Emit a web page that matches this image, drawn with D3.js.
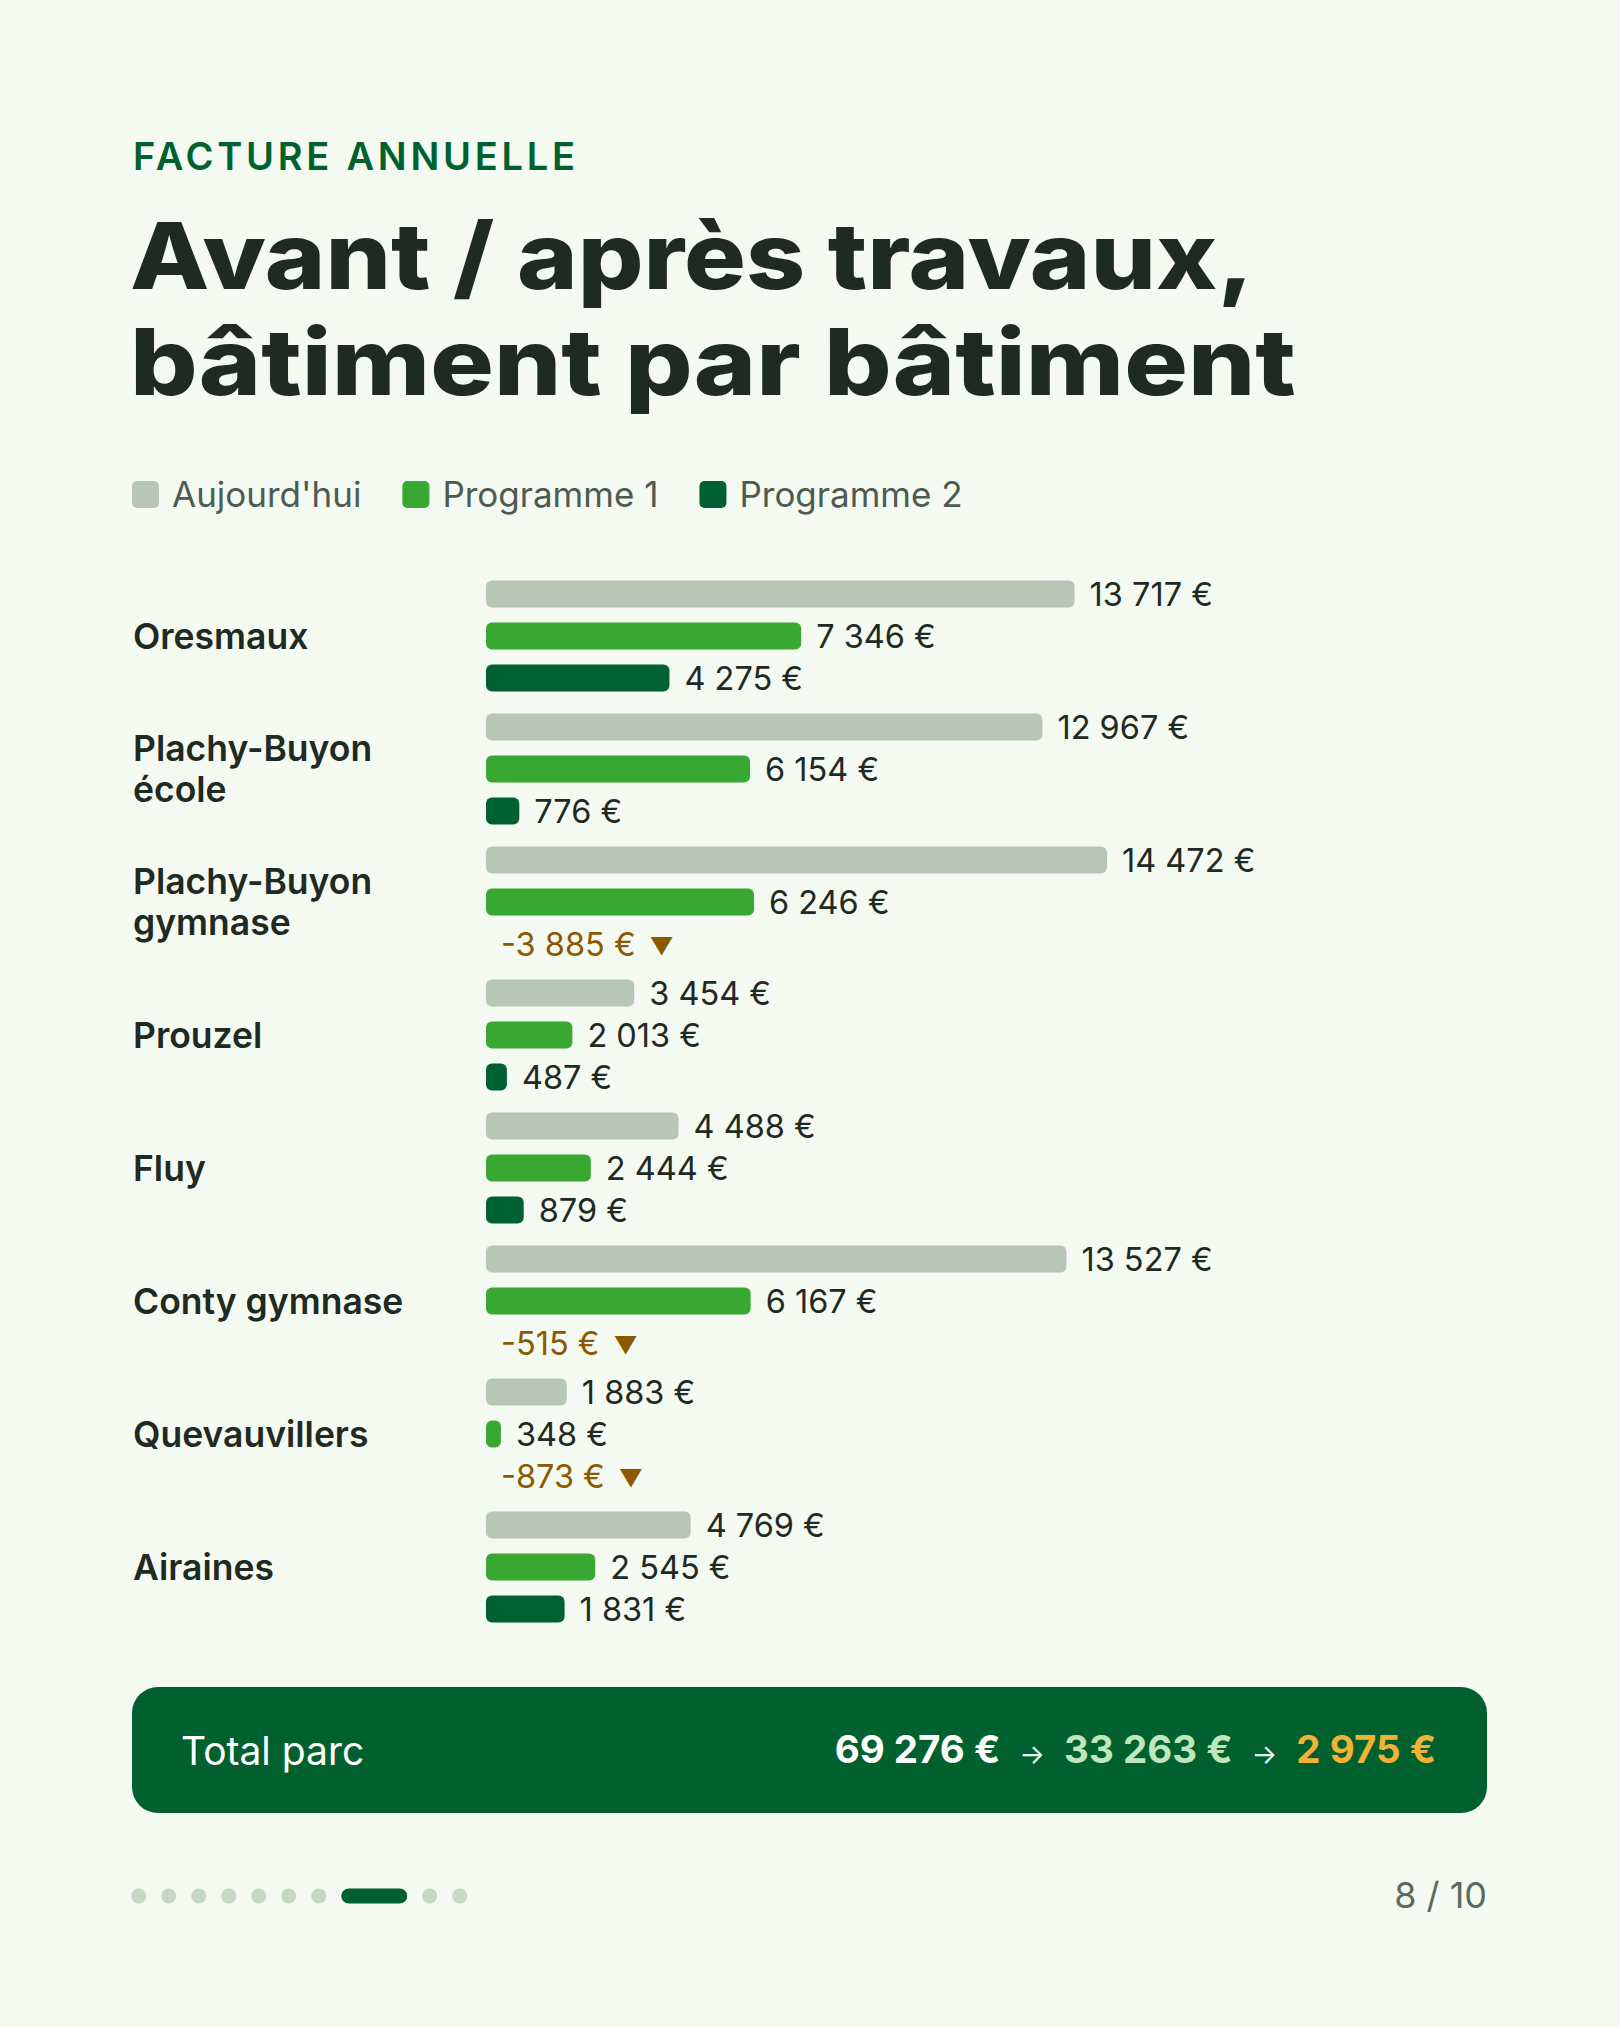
<!DOCTYPE html>
<html>
<head>
<meta charset="utf-8">
<script src="https://cdn.jsdelivr.net/npm/d3@7"></script>
<style>
  html, body { margin: 0; padding: 0; background: #f4f9f1; }
  svg { display: block; font-family: Inter, "Noto Sans", sans-serif; }
</style>
</head>
<body>
<script>
// ---------- DATA ----------
const categories = ["Oresmaux", "Plachy-Buyon école", "Plachy-Buyon gymnase", "Prouzel", "Fluy", "Conty gymnase", "Quevauvillers", "Airaines"];
const seriesNames = ["Aujourd'hui", "Programme 1", "Programme 2"];
const aujourdhui = [13717, 12967, 14472, 3454, 4488, 13527, 1883, 4769];
const programme1 = [7346, 6154, 6246, 2013, 2444, 6167, 348, 2545];
const programme2 = [4275, 776, -3885, 487, 879, -515, -873, 1831];
const totals = [69276, 33263, 2975];
const kicker = "FACTURE ANNUELLE";
const titleLines = ["Avant / après travaux,", "bâtiment par bâtiment"];
const totalLabel = "Total parc";
const pageIndex = 8, pageCount = 10;

// ---------- STYLE ----------
const W = 1620, H = 2027;
const colors = ["#b8c6b5", "#38a832", "#006130"];
const ink = "#1f2a22";
const negColor = "#8a5a00";
const bg = "#f4f9f1";

const fmt = v => d3.format(",")(Math.abs(v)).replace(/,/g, "\u00A0");
const euro = v => (v < 0 ? "-" : "") + fmt(v) + "\u00A0€";

const svg = d3.select("body").append("svg").attr("width", W).attr("height", H);
svg.append("rect").attr("width", W).attr("height", H).attr("fill", bg);

// ---------- HEADER ----------
svg.append("text").text(kicker)
  .attr("x", 133).attr("y", 170)
  .attr("font-size", 38).attr("font-weight", 600).attr("fill", "#00612e")
  .attr("textLength", 442).attr("lengthAdjust", "spacing");

const titleWidths = [1124, 1166];
titleLines.forEach((t, i) => {
  const tx = svg.append("text").text(t)
    .attr("x", 0).attr("y", 0)
    .attr("font-size", 92).attr("font-weight", 800).attr("fill", ink);
  const w = tx.node().getComputedTextLength();
  const sx = titleWidths[i] / w;
  tx.attr("transform", `translate(130,${289 + i * 106}) scale(${sx},1)`);
});

// ---------- LEGEND ----------
let lx = 132;
const legend = svg.append("g");
seriesNames.forEach((name, i) => {
  legend.append("rect").attr("x", lx).attr("y", 481).attr("width", 27).attr("height", 27)
    .attr("rx", 5).attr("fill", colors[i]);
  const t = legend.append("text").text(name)
    .attr("x", lx + 40).attr("y", 507)
    .attr("font-size", 35).attr("fill", "#4d5b51");
  lx = lx + 40 + t.node().getComputedTextLength() + 41;
});

// ---------- CHART ----------
const x0 = 486;
const series = [aujourdhui, programme1, programme2];
const x = d3.scaleLinear().domain([0, d3.max(series.flat())]).range([0, 621]);
const y = d3.scaleBand().domain(categories).range([580.5, 580.5 + 8 * 133 - 22]).paddingInner(22 / 133).paddingOuter(0);
const yInner = d3.scaleBand().domain([0, 1, 2]).range([0, y.bandwidth()]).paddingInner(15 / 42).paddingOuter(0);

const groups = svg.append("g").selectAll("g").data(categories).join("g")
  .attr("transform", d => `translate(0,${y(d)})`);

// category labels
groups.each(function (name) {
  const g = d3.select(this);
  const t = g.append("text").attr("x", 133).attr("font-size", 35.5).attr("font-weight", 600).attr("fill", ink);
  const words = name.split(" ");
  const lines = [];
  let line = [];
  const probe = t.append("tspan");
  words.forEach(w => {
    const test = line.concat(w).join(" ");
    probe.text(test);
    if (probe.node().getComputedTextLength() > 320 && line.length) {
      lines.push(line.join(" "));
      line = [w];
    } else line.push(w);
  });
  lines.push(line.join(" "));
  probe.remove();
  const lh = 41;
  const cy = y.bandwidth() / 2;
  const first = cy - (lines.length - 1) * lh / 2 + 12.5;
  lines.forEach((l, k) => {
    t.append("tspan").attr("x", 133).attr("y", first + k * lh).text(l);
  });
});

// bars
groups.each(function (name, gi) {
  const g = d3.select(this);
  series.forEach((s, si) => {
    const v = s[gi];
    const by = yInner(si);
    const bh = yInner.bandwidth();
    const w = Math.max(0, x(v));
    if (v > 0) {
      g.append("rect").attr("x", x0).attr("y", by).attr("width", w).attr("height", bh)
        .attr("rx", Math.min(6, w / 2)).attr("fill", colors[si]);
    }
    const t = g.append("text")
      .attr("x", x0 + w + 15).attr("y", by + bh / 2 + 12)
      .attr("font-size", 32.5).attr("fill", v < 0 ? negColor : ink);
    if (v < 0) {
      t.append("tspan").text(euro(v));
      t.append("tspan").text("▼").attr("font-size", 24).attr("dx", 14).attr("dy", -1);
    } else {
      t.text(euro(v));
    }
  });
});

// ---------- TOTAL BOX ----------
svg.append("rect").attr("x", 132).attr("y", 1687).attr("width", 1355).attr("height", 126)
  .attr("rx", 26).attr("fill", "#00612e");
svg.append("text").text(totalLabel).attr("x", 181).attr("y", 1765)
  .attr("font-size", 39).attr("fill", "#ffffff");

const totColors = ["#ffffff", "#bfe6bd", "#f2b233"];
let rx = 1436;
const pieces = [];
totals.forEach((v, i) => {
  pieces.push({ text: euro(v), size: 38.5, weight: 700, color: totColors[i], base: 1763 });
  if (i < totals.length - 1) pieces.push({ text: "→", size: 27, weight: 400, color: "#e8f3e8", base: 1764 });
});
for (let i = pieces.length - 1; i >= 0; i--) {
  const p = pieces[i];
  const t = svg.append("text").text(p.text).attr("x", rx).attr("y", p.base)
    .attr("text-anchor", "end").attr("font-size", p.size).attr("font-weight", p.weight).attr("fill", p.color);
  rx -= t.node().getComputedTextLength() + 19;
}

// ---------- PAGINATION ----------
const pag = svg.append("g");
let px = 131.25;
for (let i = 1; i <= pageCount; i++) {
  const wdt = i === pageIndex ? 66 : 15;
  pag.append("rect").attr("x", px).attr("y", 1888.5).attr("width", wdt).attr("height", 15)
    .attr("rx", 7.5).attr("fill", i === pageIndex ? "#00612e" : "#c5d8c2");
  px += wdt + 15;
}
svg.append("text").text(`${pageIndex} / ${pageCount}`).attr("x", 1487).attr("y", 1908)
  .attr("text-anchor", "end").attr("font-size", 36).attr("fill", "#5b6a60");
</script>
</body>
</html>
